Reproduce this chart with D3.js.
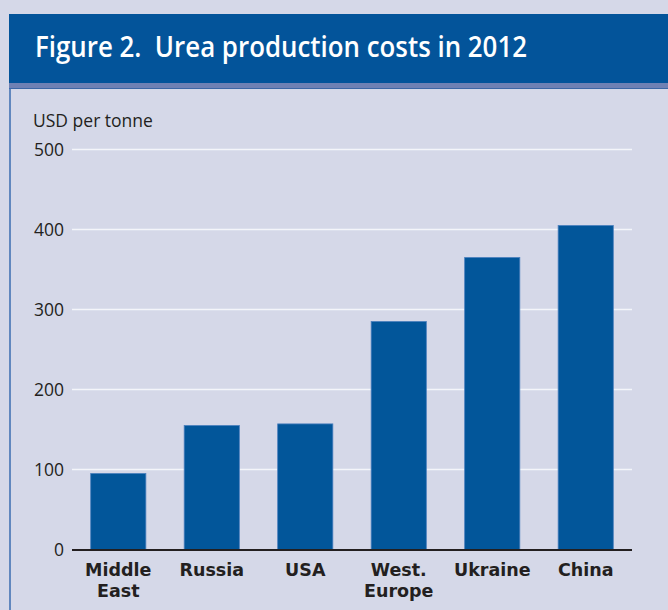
<!DOCTYPE html>
<html>
<head>
<meta charset="utf-8">
<script src="https://cdn.jsdelivr.net/npm/d3@7"></script>
<style>
  html, body { margin: 0; padding: 0; background: #d5d8e8; }
  svg { display: block; }
</style>
</head>
<body>
<svg id="chart" width="668" height="610"></svg>
<script>
const categories = [["Middle", "East"], ["Russia"], ["USA"], ["West.", "Europe"], ["Ukraine"], ["China"]];
const values = [95, 155, 157, 285, 365, 405];
const yTicks = [0, 100, 200, 300, 400, 500];
const titleText = "Figure 2.\u00A0 Urea production costs in 2012";
const unitText = "USD per tonne";

const svg = d3.select("#chart");
const W = 668, H = 610;
const font = "'Open Sans', 'Noto Sans', sans-serif";
const labelFont = "'DejaVu Sans', 'Open Sans', sans-serif";

svg.append("rect").attr("x", 0).attr("y", 0).attr("width", W).attr("height", H).attr("fill", "#d5d8e8");

// Banner
svg.append("rect").attr("x", 9).attr("y", 14).attr("width", W - 9).attr("height", 70).attr("fill", "#03549a");
svg.append("rect").attr("x", 9).attr("y", 83).attr("width", W - 9).attr("height", 5).attr("fill", "#6f81b4");
svg.append("line").attr("x1", 9).attr("x2", W).attr("y1", 88.5).attr("y2", 88.5).attr("stroke", "#3d67a6").attr("stroke-width", 1);
svg.append("line").attr("x1", 10).attr("x2", 10).attr("y1", 88).attr("y2", H).attr("stroke", "#3a6cb0").attr("stroke-width", 1.5);

svg.append("text").attr("x", 35).attr("y", 57)
  .attr("fill", "#ffffff").attr("font-family", font).attr("font-weight", 600)
  .attr("font-size", 29).attr("textLength", 492).attr("lengthAdjust", "spacingAndGlyphs")
  .text(titleText);

const x0 = 72, x1 = 632;
const y = d3.scaleLinear().domain([0, 500]).range([549.5, 149.5]);
const x = d3.scaleBand().domain(d3.range(categories.length)).range([x0, x1]).paddingInner(0.41).paddingOuter(0.2);

// gridlines
svg.append("g").selectAll("line").data(yTicks.filter(d => d > 0)).join("line")
  .attr("x1", x0).attr("x2", x1)
  .attr("y1", d => y(d)).attr("y2", d => y(d))
  .attr("stroke", "#f4f5fa").attr("stroke-width", 1.5);

// y axis labels
const yAxis = d3.axisLeft(y).tickValues(yTicks).tickSize(0).tickPadding(0);
const yg = svg.append("g").attr("transform", "translate(64,0)").call(yAxis);
yg.select(".domain").remove();
yg.selectAll("text").attr("font-family", font).attr("font-size", 17.5).attr("fill", "#231f20").attr("dy", "0.36em");

svg.append("text").attr("x", 33).attr("y", 127).attr("font-family", font).attr("font-size", 17.5)
  .attr("fill", "#231f20").text(unitText);

// bars
svg.append("g").selectAll("rect").data(values).join("rect")
  .attr("x", (d, i) => x(i)).attr("width", x.bandwidth())
  .attr("y", d => y(d)).attr("height", d => y(0) - y(d))
  .attr("fill", "#02569a").attr("stroke", "#4a7fbd").attr("stroke-width", 0.8);

// zero axis line
svg.append("line").attr("x1", x0).attr("x2", x1).attr("y1", y(0) + 0.5).attr("y2", y(0) + 0.5)
  .attr("stroke", "#231f20").attr("stroke-width", 2.2);

// x labels
const xAxis = d3.axisBottom(x).tickSize(0).tickFormat(() => "");
const xg = svg.append("g").attr("transform", `translate(0,${y(0)})`).call(xAxis);
xg.select(".domain").remove();
xg.selectAll(".tick").each(function(i) {
  const g = d3.select(this);
  g.select("text").remove();
  categories[i].forEach((line, k) => {
    g.append("text").attr("x", 0).attr("y", 26.5 + k * 21)
      .attr("font-family", labelFont).attr("font-weight", 700).attr("font-size", 17.5)
      .attr("fill", "#231f20").attr("text-anchor", "middle").text(line);
  });
});
</script>
</body>
</html>
